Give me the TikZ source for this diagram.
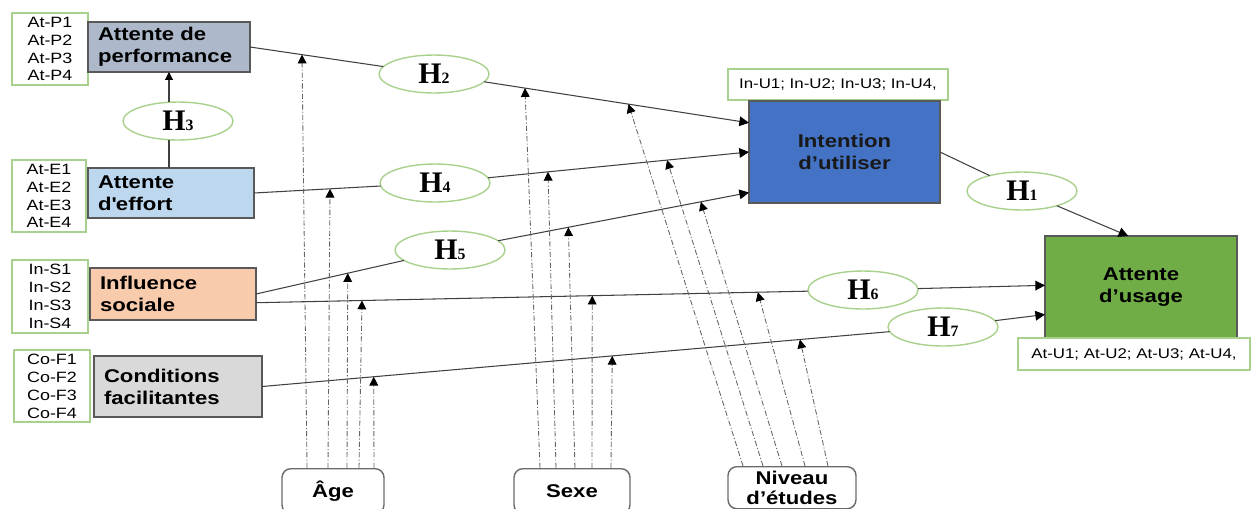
\documentclass[tikz,border=0pt]{standalone}
\usepackage{fontspec}
\setmainfont{Liberation Sans}[FakeStretch=1.2]
\newfontfamily\hfont{Liberation Serif}
\usetikzlibrary{arrows.meta,shapes.geometric}
\definecolor{perfcol}{RGB}{173,185,202}
\definecolor{effcol}{RGB}{189,215,238}
\definecolor{soccol}{RGB}{248,203,173}
\definecolor{condcol}{RGB}{217,217,217}
\definecolor{intcol}{RGB}{68,114,196}
\definecolor{usecol}{RGB}{112,173,71}
\definecolor{itemgreen}{RGB}{169,209,142}
\definecolor{boxline}{RGB}{89,89,89}
\newcommand{\hyp}[1]{{\hfont\bfseries\fontsize{17}{17}\selectfont H{\fontsize{9}{9}\selectfont #1}}}

\begin{document}
\begin{tikzpicture}[x=0.02cm,y=-0.02cm,
  factor node/.style={rectangle,draw=boxline,line width=0.9pt,font=\bfseries\fontsize{10.5}{12.5}\selectfont,inner xsep=0.2cm,inner ysep=0pt,outer sep=0pt,align=left},
  item node/.style={rectangle,draw=itemgreen,line width=0.8pt,fill=white,align=center,font=\fontsize{8.5}{10.2}\selectfont,inner sep=0pt,outer sep=0pt},
  hyp node/.style={ellipse,draw=itemgreen,line width=0.8pt,fill=white,minimum width=2.2cm,minimum height=0.76cm,inner sep=0pt,outer sep=0pt},
  mod node/.style={rectangle,rounded corners=5pt,draw=boxline!90,line width=0.8pt,fill=white,align=center,font=\bfseries\fontsize{10.5}{11.5}\selectfont,inner sep=0pt,anchor=north},
  link/.style={draw=black!75,line width=0.6pt},
  arr/.style={link,-{Triangle[width=5.5pt,length=5.5pt,color=black]}},
  mod link/.style={draw=black!60,line width=0.5pt,dash pattern=on 3pt off 1.2pt on 0.6pt off 1.2pt,-{Triangle[width=5pt,length=5pt,color=black]}}]
    \clip (0,0) rectangle (1254,508);

    \node[item node,minimum width=1.52cm,minimum height=1.44cm] (itP) at (50,49) {At-P1\\At-P2\\At-P3\\At-P4};
    \node[item node,minimum width=1.48cm,minimum height=1.44cm] (itE) at (49,196) {At-E1\\At-E2\\At-E3\\At-E4};
    \node[item node,minimum width=1.52cm,minimum height=1.46cm] (itS) at (50,296.5) {In-S1\\In-S2\\In-S3\\In-S4};
    \node[item node,minimum width=1.52cm,minimum height=1.44cm] (itF) at (52,386) {Co-F1\\Co-F2\\Co-F3\\Co-F4};

    \node[factor node,fill=perfcol,text width=2.84cm,minimum height=1cm] (perf) at (169,47) {Attente de\\performance};
    \node[factor node,fill=effcol,text width=2.92cm,minimum height=1cm] (eff) at (171,193) {Attente\\d\textquotesingle effort};
    \node[factor node,fill=soccol,text width=2.92cm,minimum height=1.04cm] (soc) at (173,294) {Influence\\sociale};
    \node[factor node,fill=condcol,text width=2.96cm,minimum height=1.22cm] (cond) at (178,386.5) {Conditions\\facilitantes};

    \node[item node,minimum width=4.4cm,minimum height=0.62cm,font=\fontsize{8}{9.6}\selectfont] (itU) at (838,84.5) {In-U1; In-U2; In-U3; In-U4,};
    \node[factor node,fill=intcol,align=center,inner xsep=0pt,minimum width=3.82cm,minimum height=2.04cm,text=black!90] (intent) at (844.5,152) {Intention\\d’utiliser};
    \node[factor node,fill=usecol,align=center,inner xsep=0pt,minimum width=3.84cm,minimum height=2.04cm] (usage) at (1141,287) {Attente\\d’usage};
    \node[item node,minimum width=4.64cm,minimum height=0.64cm,font=\fontsize{8}{9.6}\selectfont] (itA) at (1134,354) {At-U1; At-U2; At-U3; At-U4,};

    \node[hyp node] (h1) at (1022,191) {\hyp{1}};
    \node[hyp node] (h2) at (434,74) {\hyp{2}};
    \node[hyp node] (h3) at (178,121) {\hyp{3}};
    \node[hyp node] (h4) at (435,183) {\hyp{4}};
    \node[hyp node] (h5) at (450,250) {\hyp{5}};
    \node[hyp node] (h6) at (863,290) {\hyp{6}};
    \node[hyp node] (h7) at (943,327) {\hyp{7}};

    \node[mod node,minimum width=2.04cm,minimum height=0.9cm] (age) at (333,468) {Âge};
    \node[mod node,minimum width=2.32cm,minimum height=0.9cm] (sex) at (572,468) {Sexe};
    \node[mod node,minimum width=2.56cm,minimum height=0.84cm] (edu) at (792,466) {Niveau\\d’études};

    \draw[link] (perf.east) -- coordinate[pos=0.39] (a1) (h2);
    \draw[arr] (h2) -- coordinate[pos=0.154] (s1) coordinate[pos=0.545] (n1) (intent.163);
    \draw[link] (eff.east) -- coordinate[pos=0.60] (a2) (h4);
    \draw[arr] (h4) -- coordinate[pos=0.23] (s2) coordinate[pos=0.686] (n2) (intent.west);
    \draw[link] (soc.east) -- coordinate[pos=0.62] (a3) (h5);
    \draw[arr] (h5) -- coordinate[pos=0.28] (s3) coordinate[pos=0.808] (n3) (intent.203);
    \draw[link] (soc.354) -- coordinate[pos=0.192] (a4) coordinate[pos=0.609] (s4) coordinate[pos=0.909] (n4) (h6);
    \draw[arr] (h6) -- (usage.179);
    \draw[link] (cond.east) -- coordinate[pos=0.178] (a5) coordinate[pos=0.558] (s5) coordinate[pos=0.857] (n5) (h7);
    \draw[arr] (h7) -- (usage.196);
    \draw[link] (intent.east) -- (h1);
    \draw[arr] (h1) -- (usage.104);
    \draw[link,-{Triangle[width=4.5pt,length=4.5pt,color=black]}] (h3.north -| perf.south) -- (perf.south);
    \draw[link] (h3.south -| perf.south) -- (eff.north -| perf.south);

    \draw[mod link] ([xshift=-0.52cm]age.north) -- (a1);
    \draw[mod link] ([xshift=-0.10cm]age.north) -- (a2);
    \draw[mod link] ([xshift=0.28cm]age.north) -- (a3);
    \draw[mod link] ([xshift=0.52cm]age.north) -- (a4);
    \draw[mod link] ([xshift=0.82cm]age.north) -- (a5);
    \draw[mod link] ([xshift=-0.64cm]sex.north) -- (s1);
    \draw[mod link] ([xshift=-0.32cm]sex.north) -- (s2);
    \draw[mod link] ([xshift=0.06cm]sex.north) -- (s3);
    \draw[mod link] ([xshift=0.40cm]sex.north) -- (s4);
    \draw[mod link] ([xshift=0.78cm]sex.north) -- (s5);
    \draw[mod link] ([xshift=-0.98cm]edu.north) -- (n1);
    \draw[mod link] ([xshift=-0.58cm]edu.north) -- (n2);
    \draw[mod link] ([xshift=-0.20cm]edu.north) -- (n3);
    \draw[mod link] ([xshift=0.26cm]edu.north) -- (n4);
    \draw[mod link] ([xshift=0.72cm]edu.north) -- (n5);
\end{tikzpicture}
\end{document}
